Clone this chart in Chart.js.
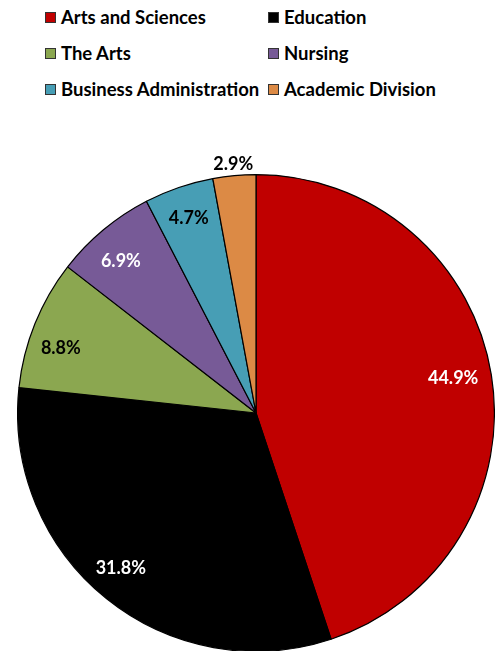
<!DOCTYPE html>
<html>
<head>
<meta charset="utf-8">
<script src="https://cdn.jsdelivr.net/npm/chart.js@4"></script>
<style>
  body { margin: 0; background: #fff; width: 496px; height: 651px; overflow: hidden; position: relative; font-family: Lato, "Open Sans", sans-serif; }
  #legend { position: absolute; left: 45px; top: 0; width: 450px; }
  .item { position: absolute; display: flex; align-items: center; font-weight: 700; font-size: 18.5px; color: #000; white-space: nowrap; }
  .box { width: 9px; height: 9px; border: 1px solid #333; margin-right: 5px; }
  #wrap { position: absolute; left: 17px; top: 140px; width: 478px; height: 512px; }
</style>
</head>
<body>
<div id="legend"></div>
<div id="wrap"><canvas id="pie-chart"></canvas></div>
<script>
let labels = ['Arts and Sciences', 'Education', 'The Arts', 'Nursing', 'Business Administration', 'Academic Division'];
let shares = [44.9, 31.8, 8.8, 6.9, 4.7, 2.9];
let colors = ['#c00000', '#000000', '#8ba750', '#775a97', '#479eb5', '#dc8a45'];
let labelColors = ['#fff', '#fff', '#000', '#fff', '#000', '#000'];
// label placement: fraction of the radius, and a small turn (degrees) off the slice middle
let labelRadius = [0.84, 0.863, 0.863, 0.854, 0.866, 1.046];
let labelTurn = [-0.9, 2.2, -3.5, -1.8, -0.1, 0];

// legend in two columns
let legend = document.getElementById('legend');
labels.forEach(function (name, i) {
    let item = document.createElement('div');
    item.className = 'item';
    item.style.left = (i % 2 === 0 ? 0 : 223) + 'px';
    item.style.top = (6 + Math.floor(i / 2) * 36) + 'px';
    let box = document.createElement('span');
    box.className = 'box';
    box.style.background = colors[i];
    item.appendChild(box);
    item.appendChild(document.createTextNode(name));
    legend.appendChild(item);
});

let pieLabels = {
    id: 'pieLabels',
    afterDatasetsDraw: function (chart) {
        let ctx = chart.ctx;
        let meta = chart.getDatasetMeta(0);
        ctx.save();
        ctx.font = 'bold 18px Lato, "Open Sans", sans-serif';
        ctx.textAlign = 'center';
        ctx.textBaseline = 'middle';
        meta.data.forEach(function (arc, i) {
            let mid = (arc.startAngle + arc.endAngle) / 2 + labelTurn[i] * Math.PI / 180;
            let r = arc.outerRadius * labelRadius[i];
            ctx.fillStyle = labelColors[i];
            ctx.fillText(shares[i].toFixed(1) + '%', arc.x + Math.cos(mid) * r, arc.y + Math.sin(mid) * r);
        });
        ctx.restore();
    }
};

let myPieChart = new Chart(document.getElementById('pie-chart'), {
    type: 'pie',
    data: {
        labels: labels,
        datasets: [
            {
                data: shares,
                backgroundColor: colors,
                borderColor: '#000',
                borderWidth: 1.2
            }
        ]
    },
    options: {
        responsive: true,
        maintainAspectRatio: false,
        animation: false,
        layout: { padding: { top: 34 } },
        plugins: {
            legend: { display: false },
            tooltip: { enabled: false }
        }
    },
    plugins: [pieLabels]
});
</script>
</body>
</html>
